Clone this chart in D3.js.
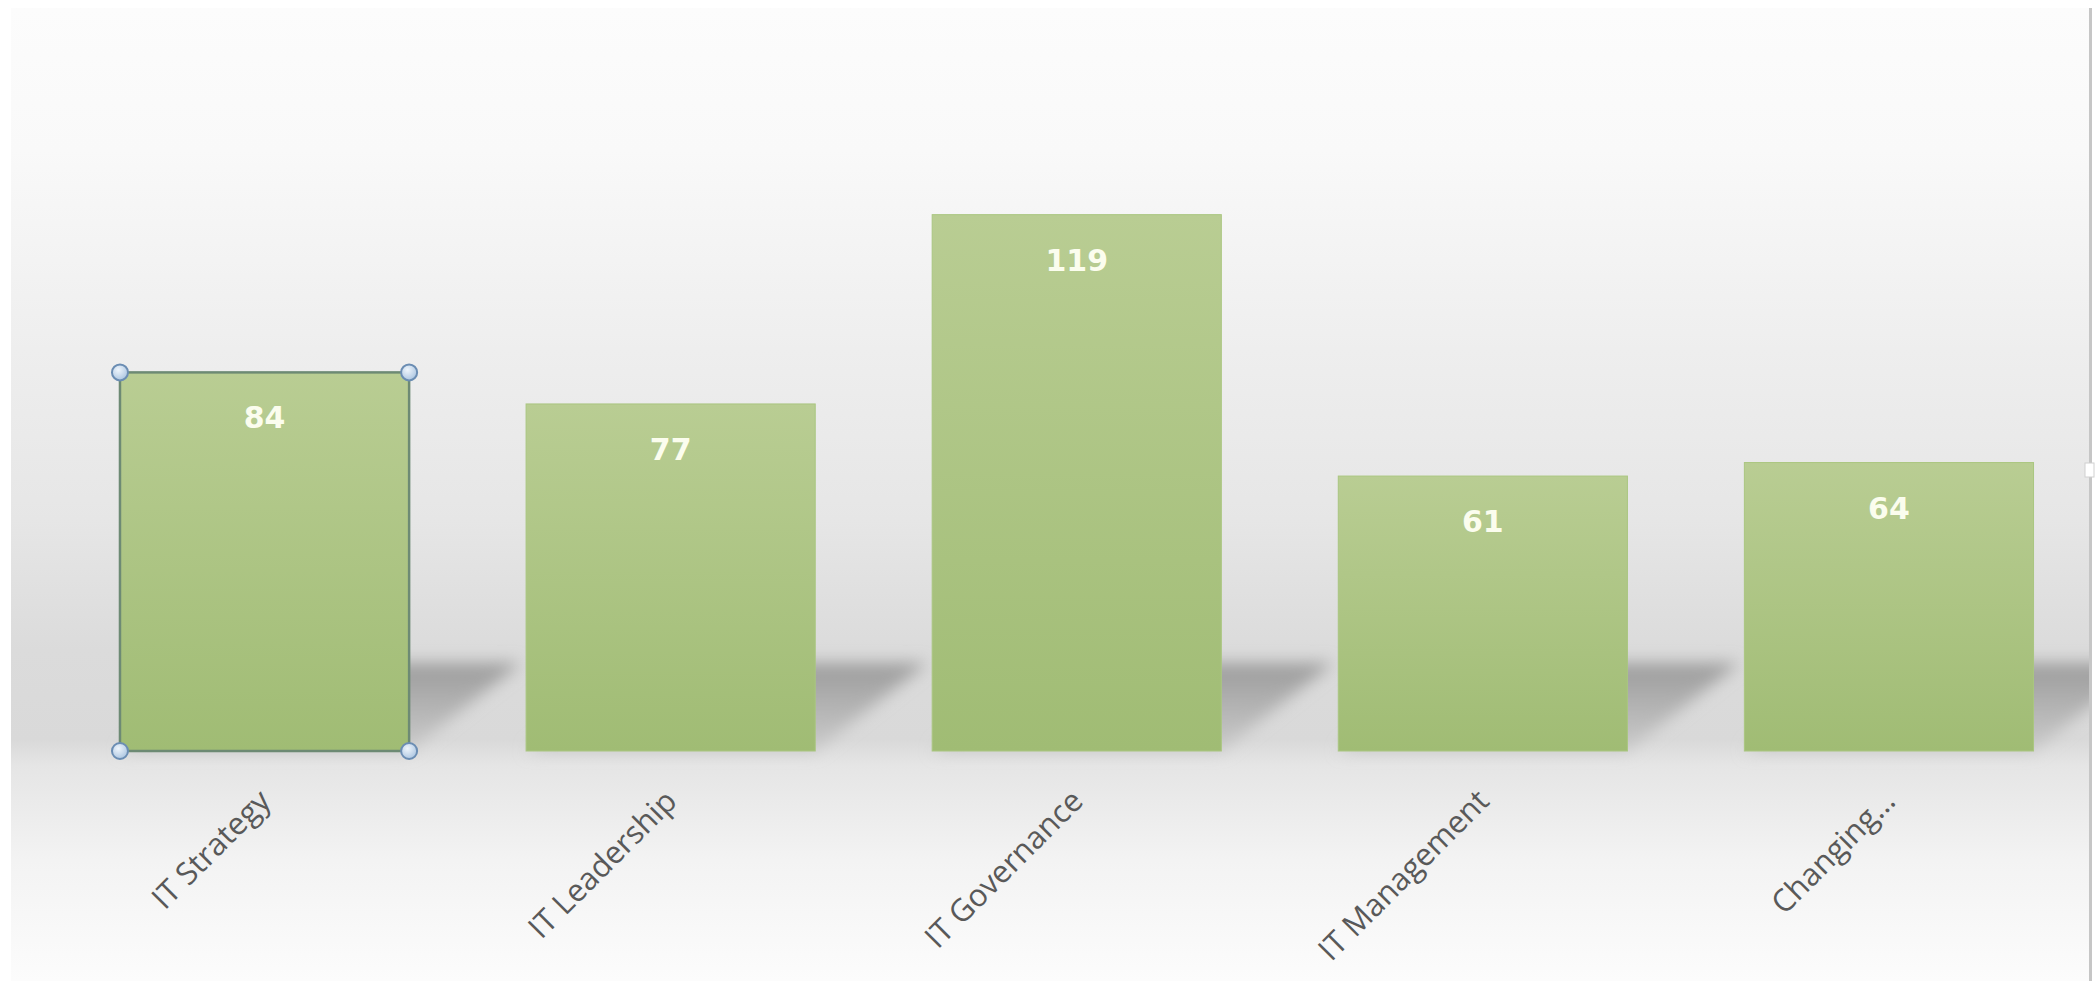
<!DOCTYPE html>
<html>
<head>
<meta charset="utf-8">
<script src="https://cdnjs.cloudflare.com/ajax/libs/d3/7.8.5/d3.min.js"></script>
<style>
  html, body { margin: 0; padding: 0; background: #ffffff; }
  svg { display: block; }
</style>
</head>
<body>
<svg id="chart" width="2098" height="981"></svg>
<script>
///////////////////////////////////////////
// Data
///////////////////////////////////////////
var categories = ["IT Strategy", "IT Leadership", "IT Governance", "IT Management", "Changing\u2026"];
var counts = [84, 77, 119, 61, 64];
var yMax = 140;
var selectedIndex = 0;   // first bar is shown selected (outline + handles)

///////////////////////////////////////////
// Setup
///////////////////////////////////////////
var svg = d3.select("#chart"),
    width = +svg.attr("width"),
    height = +svg.attr("height");

var plot = { left: 61.5, right: 2092, top: 120, bottom: 751 };

var x = d3.scaleBand()
    .domain(categories)
    .range([plot.left, plot.right])
    .paddingInner(0.288)
    .paddingOuter(0.144);

var y = d3.scaleLinear()
    .domain([0, yMax])
    .range([plot.bottom, plot.top]);

var rows = categories.map(function(c, i) { return { name: c, value: counts[i], i: i }; });

var defs = svg.append("defs");

// chart area background: light at top, grey "floor" band round the baseline
var bg = defs.append("linearGradient")
    .attr("id", "bg-grad")
    .attr("gradientUnits", "userSpaceOnUse")
    .attr("x1", 0).attr("x2", 0).attr("y1", 8).attr("y2", height);
[[8, "#fcfcfc"], [150, "#f9f9f9"], [350, "#eeeeee"], [520, "#e6e6e6"], [650, "#dbdbdb"],
 [740, "#d9d9d9"], [765, "#e5e5e5"], [860, "#f3f3f3"], [981, "#fcfcfc"]].forEach(function(s) {
    bg.append("stop")
        .attr("offset", ((s[0] - 8) / (height - 8)))
        .attr("stop-color", s[1]);
});

var barGrad = defs.append("linearGradient")
    .attr("id", "bar-grad")
    .attr("x1", 0).attr("x2", 0).attr("y1", 0).attr("y2", 1);
barGrad.append("stop").attr("offset", 0).attr("stop-color", "#b9cd93");
barGrad.append("stop").attr("offset", 1).attr("stop-color", "#a0bc74");

var shadowGrad = defs.append("linearGradient")
    .attr("id", "shadow-grad")
    .attr("x1", 0).attr("x2", 0).attr("y1", 0).attr("y2", 1);
shadowGrad.append("stop").attr("offset", 0).attr("stop-color", "#9b9b9b");
shadowGrad.append("stop").attr("offset", 1).attr("stop-color", "#cbcbcb");

defs.append("filter")
    .attr("id", "blur")
    .attr("x", "-20%").attr("y", "-50%").attr("width", "140%").attr("height", "200%")
  .append("feGaussianBlur")
    .attr("stdDeviation", 8);

var handleGrad = defs.append("radialGradient")
    .attr("id", "handle-grad")
    .attr("cx", "40%").attr("cy", "35%").attr("r", "70%");
handleGrad.append("stop").attr("offset", 0).attr("stop-color", "#eef5fc");
handleGrad.append("stop").attr("offset", 1).attr("stop-color", "#a9c3df");

defs.append("clipPath")
    .attr("id", "area-clip")
  .append("rect")
    .attr("x", 11).attr("y", 8).attr("width", 2079).attr("height", height - 8);

///////////////////////////////////////////
// Background
///////////////////////////////////////////
svg.append("rect")
    .attr("x", 11).attr("y", 8)
    .attr("width", 2079).attr("height", height - 8)
    .attr("fill", "url(#bg-grad)");

///////////////////////////////////////////
// Shadows (cast back onto the floor, up and to the right)
///////////////////////////////////////////
var shDx = 112, shDy = 88;

svg.append("g")
    .attr("clip-path", "url(#area-clip)")
  .selectAll("polygon")
  .data(rows)
  .enter().append("polygon")
    .attr("points", function(d) {
        var x0 = x(d.name), x1 = x(d.name) + x.bandwidth(), yb = y(0);
        return [[x0, yb], [x1, yb], [x1 + shDx, yb - shDy], [x0 + shDx, yb - shDy]].join(" ");
    })
    .attr("fill", "url(#shadow-grad)")
    .attr("filter", "url(#blur)");

///////////////////////////////////////////
// Bars
///////////////////////////////////////////
svg.append("g")
  .selectAll("rect")
  .data(rows)
  .enter().append("rect")
    .attr("x", function(d) { return x(d.name); })
    .attr("y", function(d) { return y(d.value); })
    .attr("width", x.bandwidth())
    .attr("height", function(d) { return y(0) - y(d.value); })
    .attr("fill", "url(#bar-grad)")
    .attr("stroke", function(d) { return d.i === selectedIndex ? "#6d8a74" : "#aac680"; })
    .attr("stroke-width", function(d) { return d.i === selectedIndex ? 2.5 : 1; });

// value labels, inside end
svg.append("g")
  .selectAll("text")
  .data(rows)
  .enter().append("text")
    .attr("x", function(d) { return x(d.name) + x.bandwidth() / 2; })
    .attr("y", function(d) { return y(d.value) + 56; })
    .attr("text-anchor", "middle")
    .attr("font-family", "DejaVu Sans, Verdana, sans-serif")
    .attr("font-weight", "bold")
    .attr("font-size", 30)
    .attr("fill", "#fbfdee")
    .text(function(d) { return d.value; });

///////////////////////////////////////////
// Category axis labels (rotated)
///////////////////////////////////////////
svg.append("g")
  .selectAll("text")
  .data(rows)
  .enter().append("text")
    .attr("transform", function(d) {
        return "translate(" + (x(d.name) + x.bandwidth() / 2 + 8) + "," + (y(0) + 52) + ") rotate(-45)";
    })
    .attr("text-anchor", "end")
    .attr("font-family", "Open Sans, sans-serif")
    .attr("font-size", 31)
    .attr("fill", "#595959")
    .text(function(d) { return d.name; });

///////////////////////////////////////////
// Selection handles on the selected bar + right edge of chart area
///////////////////////////////////////////
var sel = rows[selectedIndex];
var corners = [
    [x(sel.name), y(sel.value)], [x(sel.name) + x.bandwidth(), y(sel.value)],
    [x(sel.name), y(0)], [x(sel.name) + x.bandwidth(), y(0)]
];
svg.append("g")
  .selectAll("circle")
  .data(corners)
  .enter().append("circle")
    .attr("cx", function(d) { return d[0]; })
    .attr("cy", function(d) { return d[1]; })
    .attr("r", 8)
    .attr("fill", "url(#handle-grad)")
    .attr("stroke", "#6b8db3")
    .attr("stroke-width", 2);

svg.append("line")
    .attr("x1", 2090.5).attr("x2", 2090.5)
    .attr("y1", 8).attr("y2", height)
    .attr("stroke", "#c6c6c6")
    .attr("stroke-width", 3);

svg.append("rect")
    .attr("x", 2085).attr("y", 463)
    .attr("width", 9).attr("height", 14)
    .attr("fill", "#ffffff")
    .attr("stroke", "#d0d0d0")
    .attr("stroke-width", 1);
</script>
</body>
</html>
